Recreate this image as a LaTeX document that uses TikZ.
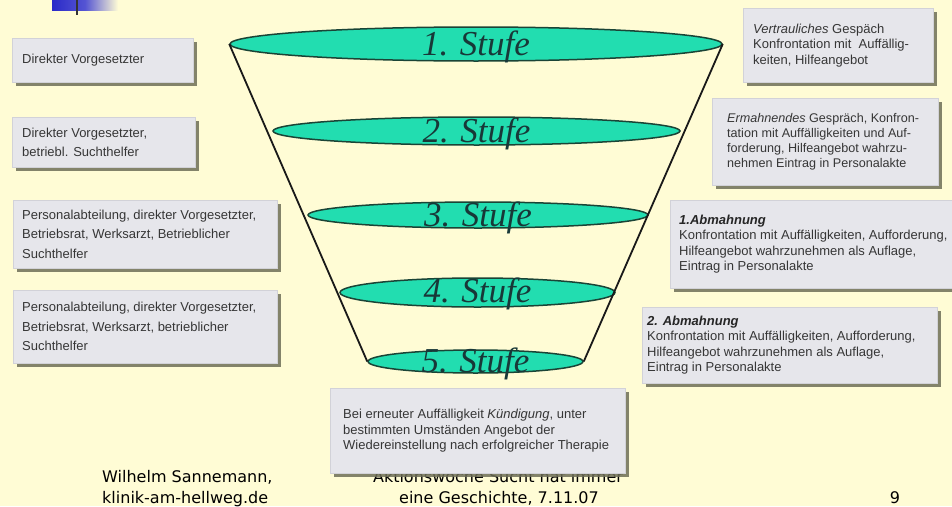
\documentclass[tikz,border=0pt]{standalone}
\usepackage{fontspec}
\setmainfont{Liberation Sans}
\newfontfamily\serifit{Liberation Serif}
\newfontfamily\footfont{DejaVu Sans}
\usetikzlibrary{shapes.geometric,shadows,calc}
\definecolor{bg}{HTML}{FFFCD5}
\definecolor{boxfill}{HTML}{E6E6EB}
\definecolor{boxline}{HTML}{D2D2D8}
\definecolor{shadowc}{HTML}{6E6E58}
\definecolor{teal1}{HTML}{22DDB0}
\definecolor{tealdark}{HTML}{1A4436}
\definecolor{labelc}{HTML}{183838}
\definecolor{txt}{HTML}{363636}
\definecolor{bluec}{HTML}{2A2AC8}
\begin{document}
\begin{tikzpicture}[x=1pt,y=-1pt,
 box/.style={rectangle, fill=boxfill, draw=boxline, line width=0.6pt, inner sep=0pt, anchor=north west,
   drop shadow={shadow xshift=4pt, shadow yshift=-4pt, fill=shadowc, opacity=0.85}},
 boxtext/.style={anchor=west, align=left, inner sep=0pt, text=txt, font=\fontsize{13}{15.5}\selectfont},
 lefttext/.style={boxtext, font=\fontsize{13}{19.5}\selectfont},
 stufe/.style={ellipse, fill=teal1, draw=tealdark, line width=1.5pt, inner sep=0pt},
 stufelabel/.style={anchor=base, inner sep=0pt, text=labelc, font=\serifit\itshape\fontsize{35}{35}\selectfont},
 foot/.style={inner sep=0pt, font=\footfont\fontsize{16}{16}\selectfont, text=black},
 funnel/.style={draw=black!90, line width=1.8pt}]
\useasboundingbox (0,0) rectangle (952,506);
\clip (0,0) rectangle (952,506);
\fill[bg] (0,0) rectangle (952,506);
% top-left logo fragment
\shade[left color=bluec, right color=bg, middle color=bluec!80] (52,0) rectangle (118,10);
\draw[line width=2pt, black!80] (77,0) -- (77,15);
% footer line hidden partly behind the bottom box
\node[foot, anchor=base] (f3) at (498,482) {Aktionswoche Sucht hat immer};
% left boxes
\node[box, minimum width=181pt, minimum height=44pt] (l1) at (12,38) {};
\node[lefttext] (l1t) at ([xshift=10pt]l1.west) {Direkter Vorgesetzter};
\node[box, minimum width=183pt, minimum height=50pt] (l2) at (12,117) {};
\node[lefttext] (l2t) at ([xshift=10pt]l2.west) {Direkter Vorgesetzter,\\betriebl. Suchthelfer};
\node[box, minimum width=264pt, minimum height=68pt] (l3) at (13,200) {};
\node[lefttext] (l3t) at ([xshift=9pt]l3.west) {Personalabteilung, direkter Vorgesetzter,\\Betriebsrat, Werksarzt, Betrieblicher\\Suchthelfer};
\node[box, minimum width=264pt, minimum height=73pt] (l4) at (13,290) {};
\node[lefttext] (l4t) at ([xshift=9pt]l4.west) {Personalabteilung, direkter Vorgesetzter,\\Betriebsrat, Werksarzt, betrieblicher\\Suchthelfer};
% right boxes
\node[box, minimum width=190pt, minimum height=74pt] (r1) at (743,8) {};
\node[boxtext] (r1t) at ([xshift=10pt]r1.west) {\textit{Vertrauliches} Gespäch\\Konfrontation mit\ \ Auffällig-\\keiten, Hilfeangebot};
\node[box, minimum width=226pt, minimum height=87pt] (r2) at (712,98) {};
\node[boxtext, font=\fontsize{12.6}{15}\selectfont] (r2t) at ([xshift=15pt]r2.west) {\textit{Ermahnendes} Gespräch, Konfron-\\tation mit Auffälligkeiten und Auf-\\forderung, Hilfeangebot wahrzu-\\nehmen Eintrag in Personalakte};
\node[box, minimum width=290pt, minimum height=88pt] (r3) at (670,200) {};
\node[boxtext] (r3t) at ([xshift=9pt]r3.west) {\textcolor{black!85}{\textbf{\textit{1.Abmahnung}}}\\Konfrontation mit Auffälligkeiten, Aufforderung,\\Hilfeangebot wahrzunehmen als Auflage,\\Eintrag in Personalakte};
\node[box, minimum width=295pt, minimum height=76pt] (r4) at (642,307) {};
\node[boxtext] (r4t) at ([xshift=5pt]r4.west) {\textcolor{black!85}{\textbf{\textit{2. Abmahnung}}}\\Konfrontation mit Auffälligkeiten, Aufforderung,\\Hilfeangebot wahrzunehmen als Auflage,\\Eintrag in Personalakte};
% bottom box
\node[box, minimum width=295pt, minimum height=85pt] (b1) at (330,388) {};
\node[boxtext] (b1t) at ([xshift=13pt]b1.west) {Bei erneuter Auffälligkeit \textit{Kündigung}, unter\\bestimmten Umständen Angebot der\\Wiedereinstellung nach erfolgreicher Therapie};
% funnel ellipses
\node[stufe, minimum width=492pt, minimum height=34pt] (s1) at (476,44) {};
\node[stufe, minimum width=407pt, minimum height=28pt] (s2) at (476.5,131) {};
\node[stufe, minimum width=340pt, minimum height=26pt] (s3) at (478,215) {};
\node[stufe, minimum width=275pt, minimum height=29pt] (s4) at (477.5,292.5) {};
\node[stufe, minimum width=215pt, minimum height=23pt] (s5) at (475.5,361.5) {};
\draw[funnel] (s1.west) -- (s5.west);
\draw[funnel] (s1.east) -- (s5.east);
\node[stufelabel] (s1l) at ([yshift=-11pt]s1.center) {1. Stufe};
\node[stufelabel] (s2l) at ([yshift=-11pt]s2.center) {2. Stufe};
\node[stufelabel] (s3l) at ([yshift=-11pt]s3.center) {3. Stufe};
\node[stufelabel] (s4l) at ([yshift=-10pt]s4.center) {4. Stufe};
\node[stufelabel] (s5l) at ([yshift=-10.5pt]s5.center) {5. Stufe};
% footer
\node[foot, anchor=base west] (f1) at (102,482) {Wilhelm Sannemann,};
\node[foot, anchor=base west] (f2) at (102,503) {klinik-am-hellweg.de};
\node[foot, anchor=base] (f4) at (499,503) {eine Geschichte, 7.11.07};
\node[foot, anchor=base] (f5) at (895,503) {9};
\end{tikzpicture}
\end{document}
